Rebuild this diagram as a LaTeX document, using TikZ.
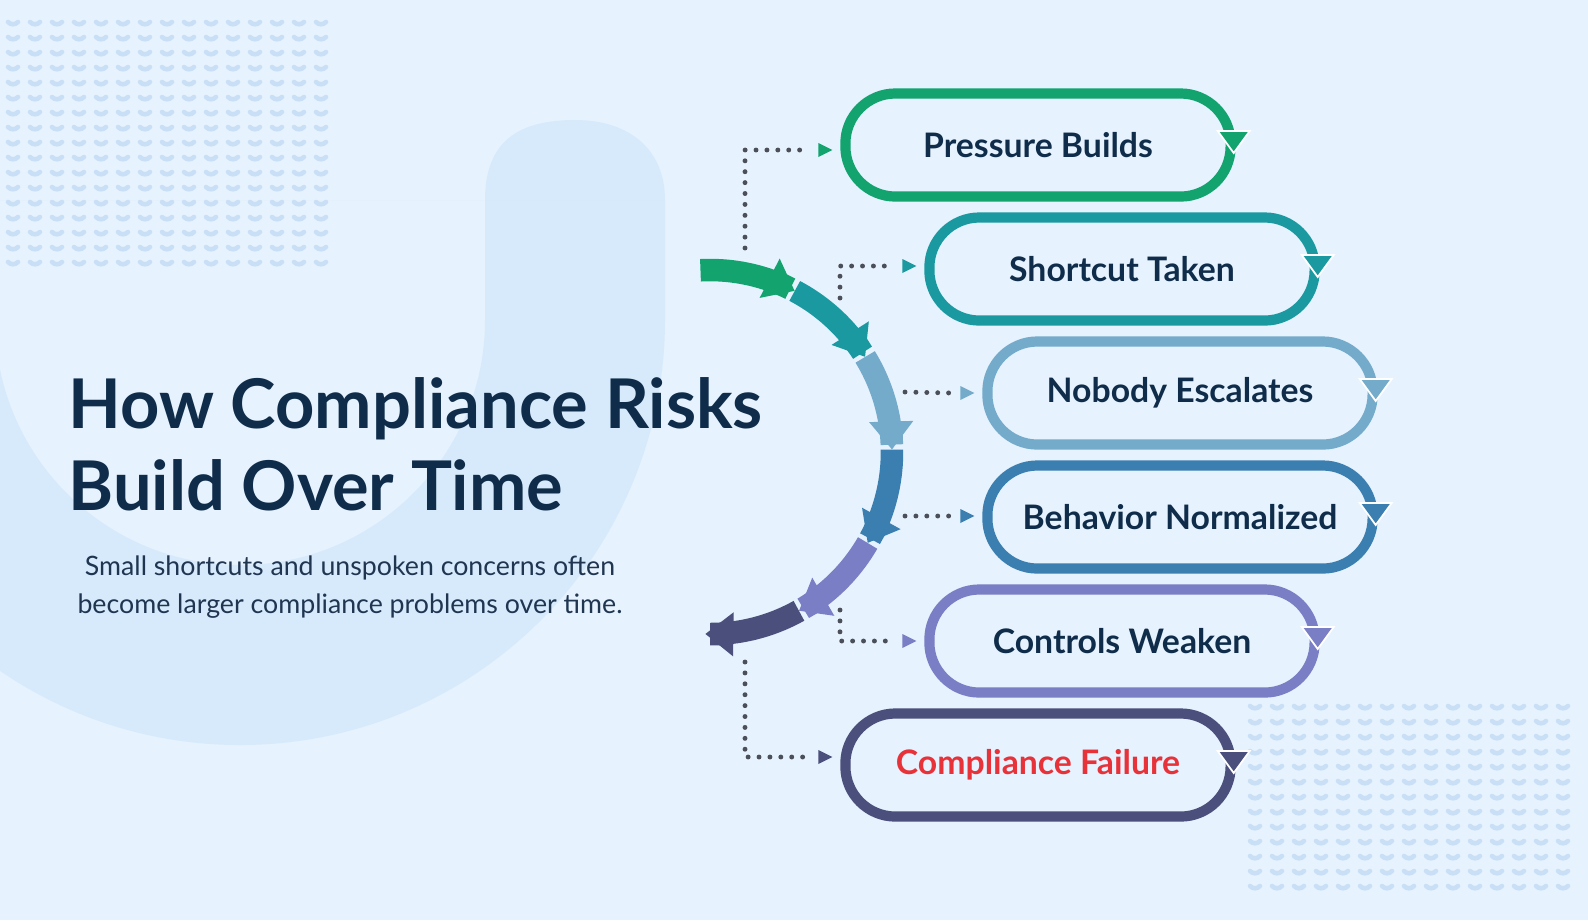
\documentclass[tikz,border=0pt]{standalone}
\usepackage{fontspec}
\setmainfont{Lato}
\usetikzlibrary{arrows.meta,calc}
\definecolor{bg}{HTML}{E6F2FD}
\definecolor{ushape}{HTML}{D3E8FB}
\definecolor{dotc}{HTML}{C9DFF6}
\definecolor{cA}{HTML}{12A36F}
\definecolor{cB}{HTML}{1A9AA0}
\definecolor{cC}{HTML}{74ABCB}
\definecolor{cD}{HTML}{3A7FB0}
\definecolor{cE}{HTML}{7A7EC4}
\definecolor{cF}{HTML}{4A4F7C}
\definecolor{ink}{HTML}{0F2D4A}
\definecolor{sub}{HTML}{1F3550}
\definecolor{fail}{HTML}{E8323A}
\definecolor{dots}{HTML}{4A4F5A}
\tikzset{
  pill/.style={draw=#1, line width=2.9pt, rounded corners=5mm, minimum width=38.5mm, minimum height=10.3mm, fill=bg, font=\bfseries\fontsize{9.6}{11}\selectfont, text=ink},
  conn/.style={dots, line width=1.4pt, line cap=round, dash pattern=on 0pt off 3.1pt},
  seg/.style={draw=#1, line width=6.4pt, -{Triangle[width=12pt,length=8pt,fill=#1]}},
}
\begin{document}
\begin{tikzpicture}[x=0.01cm,y=-0.01cm]
\fill[bg] (0,0) rectangle (1588,920);
\useasboundingbox (0,0) rectangle (1588,920);
% U shape
\fill[ushape,opacity=0.8,even odd rule]
  (665,200) -- (665,320) arc[start angle=0,end angle=180,radius=425] -- (-185,200) -- cycle
  (485,200) -- (485,320) arc[start angle=0,end angle=180,radius=245] -- (-5,200) -- cycle;
\fill[bg] (-200,0) rectangle (700,200);
\fill[ushape,opacity=0.8] (485,200) .. controls (485,140) and (520,120) .. (575,120) .. controls (630,120) and (665,150) .. (665,200) -- cycle;
% dot patterns
\foreach \i in {0,...,14}{\foreach \j in {0,...,16}{
  \draw[dotc,line width=1.3pt,line cap=round] (8+22*\i,22+15*\j) .. controls (11+22*\i,25+15*\j) and (15+22*\i,25+15*\j) .. (18+22*\i,22+15*\j);}}
\foreach \i in {0,...,14}{\foreach \j in {0,...,12}{
  \draw[dotc,line width=1.3pt,line cap=round] (1250+22*\i,706+15*\j) .. controls (1253+22*\i,709+15*\j) and (1257+22*\i,709+15*\j) .. (1260+22*\i,706+15*\j);}}
% title
\node[anchor=base west,text=ink,font=\bfseries\fontsize{19.5}{22}\selectfont] (t1) at (56,428) {How Compliance Risks};
\node[anchor=base west,text=ink,font=\bfseries\fontsize{19.5}{22}\selectfont] (t2) at (56,510) {Build Over Time};
\node[align=center,text=sub,font=\fontsize{7.6}{10.6}\selectfont] (st) at (350,587) {Small shortcuts and unspoken concerns often\\become larger compliance problems over time.};
% arc segments
\foreach \a/\b/\c in {-93/-62.25/cA,-62.25/-31.5/cB,-31.5/-0.75/cC,-0.75/30/cD,30/60.75/cE,60.75/91.5/cF}{
  \draw[seg=\c] plot[domain=\a:\b,samples=20] ({710+182*cos(\x)},{452+182*sin(\x)});
}
% pills
\foreach \n/\x/\y/\c/\t in {p1/1038/145/cA/Pressure Builds,p2/1122/269/cB/Shortcut Taken,p3/1180/393/cC/Nobody Escalates,p4/1180/517/cD/Behavior Normalized,p5/1122/641/cE/Controls Weaken,p6/1038/765/cF/{\textcolor{fail}{Compliance Failure}}}{
  \node[pill=\c] (\n) at (\x,\y) {\t};
  \fill[\c,draw=white,line width=0.5pt] ($(\n.east)+(-18,-14)$) -- ($(\n.east)+(14,-14)$) -- ($(\n.east)+(-2,8)$) -- cycle;
}
% connectors
\coordinate (s1) at (745,248); \coordinate (s2) at (840,298); \coordinate (s3) at (905,392);
\coordinate (s4) at (905,516); \coordinate (s5) at (840,610); \coordinate (s6) at (745,662);
\draw[conn] (s1) |- ($(p1.west)+(-30,5)$);
\draw[conn] (s2) |- ($(p2.west)+(-30,-3)$);
\draw[conn] (s3) -- ($(p3.west)+(-30,0)$);
\draw[conn] (s4) -- ($(p4.west)+(-30,-1)$);
\draw[conn] (s5) |- ($(p5.west)+(-30,0)$);
\draw[conn] (s6) |- ($(p6.west)+(-30,-8)$);
\foreach \n/\c/\d in {p1/cA/5,p2/cB/-3,p3/cC/0,p4/cD/-1,p5/cE/0,p6/cF/-8}{
  \fill[\c] ($(\n.west)+(-22,\d-7)$) -- ($(\n.west)+(-8,\d)$) -- ($(\n.west)+(-22,\d+7)$) -- cycle;}
\end{tikzpicture}
\end{document}
